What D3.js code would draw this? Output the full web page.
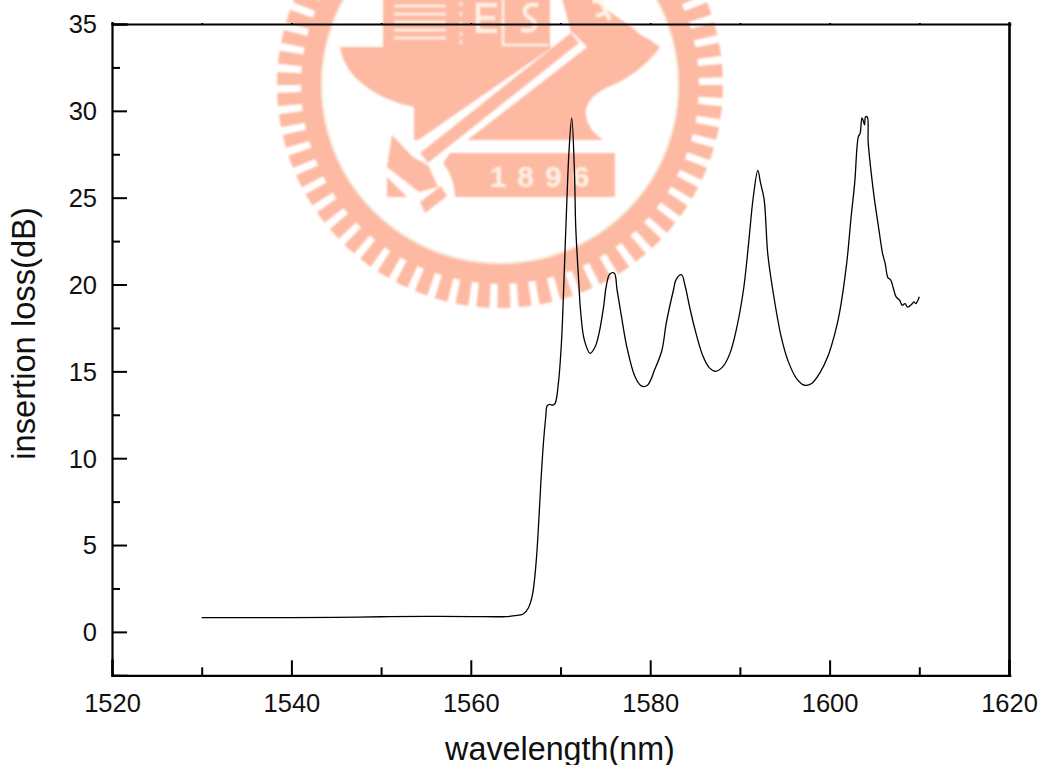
<!DOCTYPE html>
<html><head><meta charset="utf-8">
<script src="https://d3js.org/d3.v7.min.js"></script>
<style>html,body{margin:0;padding:0;background:#fff}svg{display:block}text{font-family:"Liberation Sans",Arial,sans-serif;fill:#111}</style>
</head><body><svg id="c" width="1044" height="765"></svg>
<script>
const wavelengths=[1530,1535,1540,1545,1550,1555,1560,1564,1564.9,1565.85,1566.4,1566.86,1567.24,1567.5,1567.8,1568.1,1568.36,1568.5,1568.75,1569.1,1569.4,1569.76,1570.1,1570.4,1570.7,1570.95,1571.25,1571.55,1571.7,1572,1572.26,1572.66,1573.3,1573.85,1574.3,1574.8,1575.1,1575.5,1576,1576.3,1576.8,1577.4,1578.3,1579,1579.7,1580.5,1581.3,1581.8,1582.6,1582.9,1583.5,1583.9,1584.4,1585,1585.9,1586.6,1587.3,1588.1,1588.9,1589.6,1590.4,1590.9,1591.5,1592,1592.3,1592.7,1593.1,1593.6,1594.6,1595.4,1596.3,1597.2,1598,1598.9,1599.8,1600.6,1601.1,1601.9,1602.4,1602.8,1603.2,1603.4,1603.6,1603.7,1603.9,1604,1604.2,1604.3,1604.6,1605,1605.5,1605.9,1606.2,1606.5,1606.8,1607.1,1607.4,1607.8,1608.1,1608.4,1608.7,1609.1,1609.4,1609.6,1610];
const lossValues=[.82,.82,.82,.84,.87,.89,.88,.88,.93,1.03,1.36,2.1,3.75,5.66,8.5,10.9,12.4,13,13.1,13.05,13.16,14.3,16.6,20.45,24.7,27.7,29.6,26.6,23.3,20.45,18.35,16.8,16.04,16.4,17.2,18.7,19.9,20.6,20.65,19.7,18.15,16.4,14.7,14.16,14.2,15.1,16.2,17.8,19.7,20.3,20.56,19.9,18.7,17.4,15.85,15.2,15,15.27,16.05,17.4,19.7,22,25.07,26.57,25.85,24.9,21.8,19.9,17,15.56,14.6,14.2,14.3,14.9,15.85,17.2,18.35,21.2,23.9,25.85,28.5,28.7,29.6,29.5,29.2,29.65,29.65,28.2,26.6,24.9,23.15,21.8,21.2,20.4,20.27,19.8,19.3,19.1,18.8,18.9,18.7,18.83,19,18.9,19.3];
const xMajorTicks=[1520,1540,1560,1580,1600,1620];
const xMinorTicks=[1530,1550,1570,1590,1610];
const yMajorTicks=[0,5,10,15,20,25,30,35];
const yMinorTicks=[-2.5,2.5,7.5,12.5,17.5,22.5,27.5,32.5];
const xTitle="wavelength(nm)", yTitle="insertion loss(dB)", logoYear="1896";

const svg=d3.select("#c");
const x=d3.scaleLinear().domain([1520,1620]).range([112,1009]);
const y=d3.scaleLinear().domain([-2.5,35]).range([675.3,24]);

// watermark emblem
const logoColor="#fdb9a2";
const f=svg.append("defs").append("filter").attr("id","soft");
f.append("feGaussianBlur").attr("stdDeviation",0.9);
const g=svg.append("g").attr("filter","url(#soft)");
g.append("circle").attr("cx",500).attr("cy",85).attr("r",189).attr("fill","none").attr("stroke",logoColor).attr("stroke-width",20);
g.append("circle").attr("cx",500).attr("cy",85).attr("r",210).attr("fill","none").attr("stroke",logoColor).attr("stroke-width",26)
 .attr("pathLength",66).attr("stroke-dasharray","0.62 0.38");
g.append("circle").attr("cx",500).attr("cy",85).attr("r",178).attr("fill","none").attr("stroke","#f1efdf").attr("stroke-width",1.5);
// anvil body and upper block
g.append("path").attr("fill",logoColor).attr("d","M340,47 L383,47 L383,-2 L550,-2 L550,47 L575,47 L562,-2 L590,-2 L640,33 L660,47 C650,62 630,78 613,85 C592,93 584,105 586,116 C588,128 596,135 603,140 L468,140 L414,140 L414,107 C380,100 345,80 340,47 Z");
// pale details on the block
g.append("path").attr("fill","none").attr("stroke","#fff3e6").attr("stroke-width",2.5)
 .attr("d","M394,6H446M394,14H446M394,22H446M394,30H446M394,38H446M461,2V6M461,12V16M461,22V26M461,32V36M461,40V44M503,-2V45H548");
g.append("path").attr("fill","none").attr("stroke","#fff3e6").attr("stroke-width",4).attr("d","M497,5H478V31H497M478,18H495M538,5C522,3 522,14 530,18C538,22 538,33 521,30");
g.append("path").attr("fill","none").attr("stroke","#fff3e6").attr("stroke-width",4).attr("d","M593,2L600,0L610,20M596,16L608,12");
g.append("path").attr("fill","none").attr("stroke","#fff").attr("stroke-width",5).attr("d","M638,30L648,36");
// sword
g.append("path").attr("fill","#fff").attr("d","M573,33 L587,47 L466,141 L420,172 L404,150 Z");
g.append("line").attr("x1",575).attr("y1",38).attr("x2",424).attr("y2",158).attr("stroke",logoColor).attr("stroke-width",13);
// hilt
g.append("path").attr("fill",logoColor).attr("d","M392,135 L413,157 L428,165 L438,187 L419,192 L387,167 Z");
g.append("path").attr("fill",logoColor).attr("d","M387,177 L407,197 L387,197 Z");
g.append("path").attr("fill",logoColor).attr("d","M420,202 L441,186 L447,196 L425,213 Z");
// plaque
g.append("path").attr("fill",logoColor).attr("d","M450,153 L615,153 L615,197 L455,197 C455,184 450,172 443,163 Z");
g.append("text").attr("x",545).attr("y",187).attr("text-anchor","middle").attr("font-size",30).attr("font-weight","bold").attr("letter-spacing",11).style("fill","#fff1e6").text(logoYear);

// curve
const line=d3.line().x((d,i)=>x(wavelengths[i])).y(d=>y(d)).curve(d3.curveCatmullRom.alpha(0.5));
svg.append("path").datum(lossValues).attr("d",line).attr("fill","none").attr("stroke","#000").attr("stroke-width",1.3);

// axes
function style(sel,w){sel.selectAll(".domain").attr("stroke","#000").attr("stroke-width",w);
  sel.selectAll(".tick line").attr("stroke","#000").attr("stroke-width",2);}
const bottom=svg.append("g").attr("transform","translate(0,675.3)");
bottom.call(d3.axisBottom(x).tickValues(xMajorTicks).tickFormat(d3.format("d")).tickSize(-15));
bottom.selectAll("text").attr("font-size",25.5).attr("dy",0).attr("y",36.5);
style(bottom,2.2);
const bm=svg.append("g").attr("transform","translate(0,675.3)");
bm.call(d3.axisBottom(x).tickValues(xMinorTicks).tickFormat("").tickSize(-8));style(bm,0);

const left=svg.append("g").attr("transform","translate(112,0)");
left.call(d3.axisLeft(y).tickValues(yMajorTicks).tickFormat(d3.format("d")).tickSize(-15));
left.selectAll("text").attr("font-size",25.5).attr("x",-15).attr("dy","0.35em");
style(left,2.2);
const lm=svg.append("g").attr("transform","translate(112,0)");
lm.call(d3.axisLeft(y).tickValues(yMinorTicks).tickFormat("").tickSize(-8));style(lm,0);

const top_=svg.append("g").attr("transform","translate(0,24)");
top_.call(d3.axisTop(x).tickValues(d3.merge([xMajorTicks,xMinorTicks])).tickFormat("").tickSize(1));style(top_,2.2);
const right=svg.append("g").attr("transform","translate(1009,0)");
right.call(d3.axisRight(y).tickValues(d3.merge([yMajorTicks,yMinorTicks])).tickFormat("").tickSize(1));style(right,2.6);
svg.selectAll(".domain").attr("stroke-linecap","square");

svg.append("text").attr("x",560).attr("y",760).attr("text-anchor","middle").attr("font-size",32.3).text(xTitle);
svg.append("text").attr("transform","translate(35,333.5) rotate(-90)").attr("text-anchor","middle").attr("font-size",32.7).text(yTitle);
</script></body></html>
